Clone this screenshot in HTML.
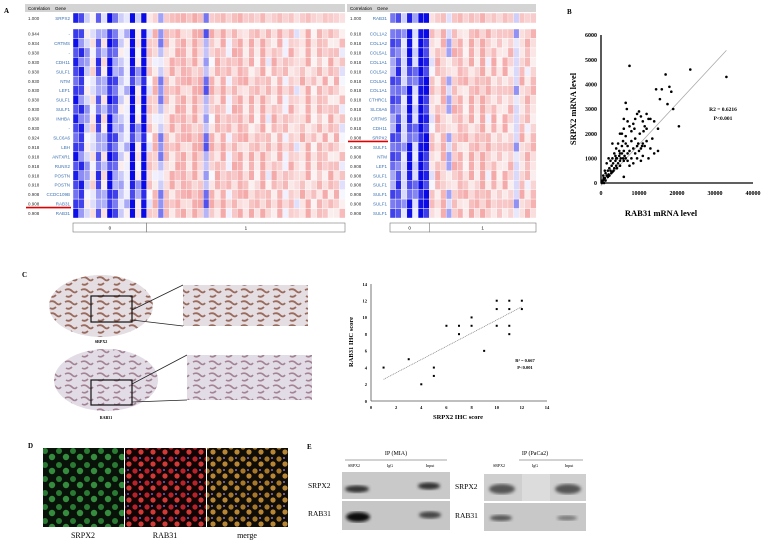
<!DOCTYPE html>
<html><head><meta charset="utf-8">
<style>
html,body{margin:0;padding:0;background:#fff;}
svg{display:block;font-family:"Liberation Serif",serif;}
.sm{font-family:"Liberation Sans",sans-serif;font-size:4.5px;}
</style></head>
<body>
<svg id="fig" width="765" height="542" viewBox="0 0 765 542">
<defs>
<pattern id="tissue" width="16" height="12" patternUnits="userSpaceOnUse">
<rect width="16" height="12" fill="#e4dde2"/>
<path d="M1 2 q4 -2 7 1 q3 3 5 0 M2 8 q3 2 6 -1" stroke="#9a6a5c" stroke-width="1.8" fill="none"/>
</pattern>
<pattern id="tissue2" width="16" height="12" patternUnits="userSpaceOnUse">
<rect width="16" height="12" fill="#e2dce6"/>
<path d="M1 2 q4 -2 7 1 q3 3 5 0 M2 8 q3 2 6 -1" stroke="#a48494" stroke-width="1.6" fill="none"/>
</pattern>
<pattern id="grn" width="14" height="14" patternUnits="userSpaceOnUse">
<rect width="14" height="14" fill="#081208"/>
<circle cx="3" cy="3" r="3" fill="#2a7a33"/><circle cx="10" cy="9" r="3.2" fill="#358c3e"/>
</pattern>
<pattern id="red" width="12" height="12" patternUnits="userSpaceOnUse">
<rect width="12" height="12" fill="#120404"/>
<circle cx="3" cy="3" r="2.6" fill="#b8222a"/><circle cx="9" cy="8" r="2.6" fill="#d23a36"/><circle cx="8" cy="2" r="1" fill="#6a5fd0"/>
</pattern>
<pattern id="mrg" width="12" height="12" patternUnits="userSpaceOnUse">
<rect width="12" height="12" fill="#100c06"/>
<circle cx="3" cy="3" r="2.6" fill="#a8782a"/><circle cx="9" cy="8" r="2.6" fill="#b98636"/><circle cx="8" cy="2" r="1" fill="#8a70c0"/>
</pattern>
<filter id="blur"><feGaussianBlur stdDeviation="1.6"/></filter>
</defs>

<text x="4" y="13" font-size="7" font-weight="bold">A</text>
<g id="heatA"></g>
<g id="heatB"></g>

<text x="567" y="14" font-size="7" font-weight="bold">B</text>
<g id="scatB"></g>

<text x="22" y="277" font-size="7" font-weight="bold">C</text>
<g>
<ellipse cx="101" cy="306" rx="52" ry="31" fill="url(#tissue)"/>
<rect x="91" y="296" width="41" height="26" fill="none" stroke="#111" stroke-width="1.2"/>
<line x1="132" y1="310" x2="183" y2="285" stroke="#222" stroke-width="0.8"/>
<line x1="132" y1="320" x2="183" y2="326" stroke="#222" stroke-width="0.8"/>
<rect x="183" y="285" width="125" height="41" fill="url(#tissue)"/>
<text x="101" y="343" font-size="4" font-weight="bold" text-anchor="middle">SRPX2</text>
<ellipse cx="106" cy="380" rx="52" ry="31" fill="url(#tissue2)"/>
<rect x="91" y="380" width="41" height="25" fill="none" stroke="#111" stroke-width="1.2"/>
<line x1="132" y1="384" x2="187" y2="355" stroke="#222" stroke-width="0.8"/>
<line x1="132" y1="402" x2="187" y2="400" stroke="#222" stroke-width="0.8"/>
<rect x="187" y="355" width="125" height="45" fill="url(#tissue2)"/>
<text x="106" y="419" font-size="4" font-weight="bold" text-anchor="middle">RAB31</text>
</g>
<g id="scatC"></g>

<text x="28" y="448" font-size="7" font-weight="bold">D</text>
<rect x="43" y="448" width="81" height="79" fill="url(#grn)"/>
<rect x="125" y="448" width="81" height="79" fill="url(#red)"/>
<rect x="207" y="448" width="81" height="79" fill="url(#mrg)"/>
<text x="83" y="538" font-size="8" text-anchor="middle">SRPX2</text>
<text x="165" y="538" font-size="8" text-anchor="middle">RAB31</text>
<text x="247" y="538" font-size="8" text-anchor="middle">merge</text>

<text x="307" y="449" font-size="7" font-weight="bold">E</text>
<g>
<text x="396" y="455" font-size="6" text-anchor="middle">IP (MIA)</text>
<line x1="345" y1="460" x2="447" y2="460" stroke="#888" stroke-width="0.8"/>
<text x="354" y="467" font-size="4" text-anchor="middle">SRPX2</text>
<text x="390" y="467" font-size="4" text-anchor="middle">IgG</text>
<text x="430" y="467" font-size="4" text-anchor="middle">Input</text>
<text x="308" y="488" font-size="7.5">SRPX2</text>
<text x="308" y="516" font-size="7.5">RAB31</text>
<rect x="342" y="472" width="108" height="27" fill="#c9c9c9"/>
<rect x="342" y="501" width="108" height="29" fill="#c6c6c6"/>
<ellipse cx="357" cy="489" rx="12" ry="3.5" fill="#333" filter="url(#blur)"/>
<ellipse cx="429" cy="486" rx="11" ry="3.5" fill="#333" filter="url(#blur)"/>
<ellipse cx="358" cy="517" rx="12" ry="5" fill="#111" filter="url(#blur)"/>
<ellipse cx="430" cy="515" rx="11" ry="3.5" fill="#444" filter="url(#blur)"/>
</g>
<g>
<text x="535" y="455" font-size="6" text-anchor="middle">IP (PaCa2)</text>
<line x1="519" y1="460" x2="583" y2="460" stroke="#888" stroke-width="0.8"/>
<text x="499" y="467" font-size="4" text-anchor="middle">SRPX2</text>
<text x="535" y="467" font-size="4" text-anchor="middle">IgG</text>
<text x="569" y="467" font-size="4" text-anchor="middle">Input</text>
<text x="455" y="489" font-size="7.5">SRPX2</text>
<text x="455" y="518" font-size="7.5">RAB31</text>
<rect x="484" y="474" width="102" height="27" fill="#cfcfcf"/>
<rect x="484" y="503" width="102" height="28" fill="#c8c8c8"/>
<rect x="522" y="474" width="28" height="27" fill="#dcdcdc"/>
<ellipse cx="502" cy="489" rx="13" ry="5" fill="#555" filter="url(#blur)"/>
<ellipse cx="568" cy="489" rx="13" ry="5" fill="#555" filter="url(#blur)"/>
<ellipse cx="501" cy="518" rx="11" ry="3" fill="#555" filter="url(#blur)"/>
<ellipse cx="567" cy="518" rx="10" ry="2.5" fill="#777" filter="url(#blur)"/>
</g>
</svg>

<script>
const leftGenes = ["-","CRTMS","-","CDH11","SULF1","NTM","LEF1","SULF1","SULF1","INHBA","-","SLC6A6","LBH","ANTXR1","RUNX2","POSTN","POSTN","CCDC109B","RAB31","RAB31"];
const leftCorr = ["0.944","0.934","0.930","0.930","0.930","0.930","0.930","0.930","0.930","0.930","0.930","0.924","0.918","0.918","0.918","0.918","0.918","0.908","0.908","0.908"];
const rightGenes = ["COL1A2","COL1A2","COL5A1","COL1A1","COL5A2","COL5A1","COL1A1","CTHRC1","SLC6A6","CRTMS","CDH11","SRPX2","SULF1","NTM","LEF1","SULF1","SULF1","SULF1","SULF1","SULF1"];
const rightCorr = ["0.918","0.918","0.918","0.918","0.918","0.918","0.918","0.918","0.918","0.918","0.918","0.908","0.908","0.908","0.908","0.908","0.908","0.908","0.908","0.908"];
const leftColBase = [-2.5,-2,-0.5,0,-1.8,-0.3,-2.8,-1.5,-0.5,-0.2,-3,-0.5,-3,
 0.2,0.5,-1,0.6,0.8,0.9,1,0.7,1.1,0.8,-1.5,0.6,0.7,0.9,0.5,0.8,1.0,0.6,0.7,0.5,0.9,0.4,0.6,0.8,0.5,0.7,0.3,0.6,0.8,0.5,0.4,0.7,0.6,0.5,0.3];
const rightColBase = [-1.5,-2,-0.5,-2.5,-1,-3,-3,
 0.3,0.6,0.8,-0.3,0.7,0.9,0.5,0.8,0.6,1.0,0.5,0.7,0.4,0.8,0.6,-0.5,0.7,0.5,0.6];
const noiseRows = ["5382917460285193746025819374602581937460281937",
 "2957381046293851704629385170462938517046293851",
 "7104629385172946308517294630851729463085172946",
 "3816092745381609274538160927453816092745381609",
 "6049273815604927381560492738156049273815604927",
 "9273816045927381604592738160459273816045927381"];

const NS = "http://www.w3.org/2000/svg";
function mk(parent, tag, attrs, txt){
  const e = document.createElementNS(NS, tag);
  for (const k in attrs) e.setAttribute(k, attrs[k]);
  if (txt !== undefined) e.textContent = txt;
  parent.appendChild(e); return e;
}
function heatColor(v){
  if (v < 0){ const t=Math.min(1,-v/3); return `rgb(${Math.round(250-240*t)},${Math.round(250-240*t)},${Math.round(255-25*t)})`; }
  const t=Math.min(0.5,v/2.4); return `rgb(${Math.round(252-14*t)},${Math.round(245-150*t)},${Math.round(245-150*t)})`;
}
function drawHeat(gid, cfg){
  const g = document.getElementById(gid);
  const hdr = mk(g,'rect',{x:cfg.x0,y:4,width:cfg.x1-cfg.x0,height:8,fill:'#d4d4d4'});
   
  mk(g,'text',{x:cfg.x0+3,y:10,class:'sm'},'Correlation');
  mk(g,'text',{x:cfg.x0+30,y:10,class:'sm'},'Gene');
  const n = cfg.base.length, cw = (cfg.hx1-cfg.hx0)/n;
  mk(g,'text',{x:cfg.x0+3,y:20,class:'sm',fill:'#333'},'1.000');
  mk(g,'text',{x:cfg.hx0-3,y:20,class:'sm',fill:'#3a6fb0','text-anchor':'end'},cfg.refGene);
  cfg.base.forEach((b,c)=>{
    const r = mk(g,'rect',{x:cfg.hx0+c*cw,y:13,width:cw+0.2,height:10,fill:heatColor(b*1.1),stroke:'#fff','stroke-width':0.4});
     
  });
  const rh = 9.45, y0 = 29;
  cfg.genes.forEach((gn,i)=>{
    const y = y0+i*rh;
    mk(g,'text',{x:cfg.x0+3,y:y+6.5,class:'sm',fill:'#333'},cfg.corr[i]);
    mk(g,'text',{x:cfg.hx0-3,y:y+6.5,class:'sm',fill:'#3a6fb0','text-anchor':'end'},gn);
    const ns = noiseRows[i%noiseRows.length];
    cfg.base.forEach((b,c)=>{
      const d = (parseInt(ns[(c+cfg.shift)%ns.length])-4.5)/5;
      const v = b + d*(b<0?0.9:0.7);
      const r = mk(g,'rect',{x:cfg.hx0+c*cw,y:y,width:cw+0.2,height:rh,fill:heatColor(v),stroke:'#fff','stroke-width':0.4});
       
    });
  });
  const by = y0+cfg.genes.length*rh+5;
  const gx = cfg.hx0 + cfg.g0*cw;
  mk(g,'rect',{x:cfg.hx0,y:by,width:gx-cfg.hx0,height:9,fill:'#fff',stroke:'#777','stroke-width':0.6});
  mk(g,'rect',{x:gx,y:by,width:cfg.hx1-gx,height:9,fill:'#fff',stroke:'#777','stroke-width':0.6});
  mk(g,'text',{x:(cfg.hx0+gx)/2,y:by+6.5,class:'sm','text-anchor':'middle'},'0');
  mk(g,'text',{x:(gx+cfg.hx1)/2,y:by+6.5,class:'sm','text-anchor':'middle'},'1');
  const ry = y0+cfg.redRow*rh+rh-1;
  const red = mk(g,'line',{x1:cfg.x0+1,y1:ry,x2:cfg.hx0-2,y2:ry,stroke:'#e00000','stroke-width':1.6});
   
}
drawHeat('heatA',{x0:25,x1:345,hx0:73,hx1:345,base:leftColBase,g0:13,genes:leftGenes,corr:leftCorr,refGene:'SRPX2',redRow:18,shift:0});
drawHeat('heatB',{x0:347,x1:536,hx0:390,hx1:536,base:rightColBase,g0:7,genes:rightGenes,corr:rightCorr,refGene:'RAB31',redRow:11,shift:7});

const bX = [300,500,800,600,1000,1200,1500,1800,2000,2200,2500,2800,3000,3200,3500,3800,4000,4200,4500,4800,5000,5200,5500,5800,6000,6200,6500,7000,7500,8000,8500,9000,9500,10000,10500,11000,11500,12000,13000,14000,15000,5500,6000,6500,7000,7500,8000,8500,9000,9500,10000,10500,11000,11500,12000,12500,13000,14000,15000,14500,15500,16000,17000,18000,17500,18500,19000,20500,23500,33000,7500,6500,6000,3000,2000,1500,4000,4500,5000,3500,2500,1000,700,400,200,1800,2700,3300,4200,5000,6000,7500,8500,9500,10500,11000,12500,13500,12000,9000,8000,7000,6500,5500,4800,3800,6800,8800,10200,11200,3000,4000,5000,6000,7000,2200,1200,800,5800,9800,10800];
const bY = [50,100,150,300,200,400,300,500,350,600,500,700,450,800,600,900,700,1000,800,1100,900,1000,1200,1000,1300,1100,1000,1200,1300,1000,1400,1200,1500,1300,1400,1600,1500,1700,1400,1200,1300,2000,2200,1900,2500,2300,2100,2400,2600,2800,2900,2700,2500,2300,2200,2600,2600,2500,2200,3800,3400,3800,4400,3900,3200,3700,3000,2300,4600,4300,4750,3250,2600,1600,1000,800,1400,1600,2000,1200,900,500,200,100,0,250,400,500,600,700,250,700,800,1000,900,1100,1000,1800,2800,1800,1700,1500,1600,1500,1300,1100,3000,2200,2000,2100,1000,1000,1200,900,900,300,100,0,1700,1600,1500];
const bXTicks = [0,10000,20000,30000,40000];
const bYTicks = [0,1000,2000,3000,4000,5000,6000];
const bFit = [0.166, -100];
const bFitRange = [0,33000];

(function(){
  const g = document.getElementById('scatB');
  const X = v => 601 + v/40000*152, Y = v => 183 - v/6000*148;
  mk(g,'line',{x1:601,y1:Y(6000),x2:601,y2:183,stroke:'#000','stroke-width':1.3});
  mk(g,'line',{x1:601,y1:183,x2:753,y2:183,stroke:'#000','stroke-width':1.3});
  bYTicks.forEach(t=>{ mk(g,'text',{x:597,y:Y(t)+2.2,'font-size':6,'font-weight':'bold','text-anchor':'end'},String(t)); });
  bXTicks.forEach(t=>{ mk(g,'text',{x:X(t),y:195,'font-size':6,'font-weight':'bold','text-anchor':'middle'},String(t)); });
  const fl = mk(g,'line',{x1:X(bFitRange[0]),y1:Y(bFit[0]*bFitRange[0]+bFit[1]),x2:X(bFitRange[1]),y2:Y(bFit[0]*bFitRange[1]+bFit[1]),stroke:'#aaa','stroke-width':0.8});
   
  bX.forEach((x,i)=>{
    const c = mk(g,'circle',{cx:X(x),cy:Y(bY[i]),r:1.3,fill:'#000'});
     
  });
  mk(g,'text',{x:661,y:216,'font-size':8.5,'font-weight':'bold','text-anchor':'middle'},'RAB31 mRNA level');
  mk(g,'text',{x:0,y:0,'font-size':8.5,'font-weight':'bold','text-anchor':'middle',transform:'translate(576,109) rotate(-90)'},'SRPX2 mRNA level');
  mk(g,'text',{x:723,y:111,'font-size':5.5,'font-weight':'bold','text-anchor':'middle'},'R2 = 0.6216');
  mk(g,'text',{x:723,y:120,'font-size':5.5,'font-weight':'bold','text-anchor':'middle'},'P<0.001');
})();

const cX = [1,3,4,5,5,6,7,7,8,8,9,10,10,10,11,11,11,11,12,12];
const cY = [4,5,2,4,3,9,9,8,10,9,6,12,11,9,12,11,9,8,12,11];
const cTicks = [0,2,4,6,8,10,12,14];
const cFit = [0.79, 1.8];
const cFitRange = [1,12];

(function(){
  const g = document.getElementById('scatC');
  const X = v => 371 + v/14*176, Y = v => 401 - v/14*117;
  mk(g,'line',{x1:371,y1:Y(14),x2:371,y2:401,stroke:'#555','stroke-width':0.8});
  mk(g,'line',{x1:371,y1:401,x2:547,y2:401,stroke:'#555','stroke-width':0.8});
  cTicks.forEach(t=>{
    mk(g,'text',{x:367,y:Y(t)+1.8,'font-size':4.5,'font-weight':'bold','text-anchor':'end'},String(t));
    mk(g,'text',{x:X(t),y:409,'font-size':4.5,'font-weight':'bold','text-anchor':'middle'},String(t));
  });
  const fl = mk(g,'line',{x1:X(cFitRange[0]),y1:Y(cFit[0]*cFitRange[0]+cFit[1]),x2:X(cFitRange[1]),y2:Y(cFit[0]*cFitRange[1]+cFit[1]),stroke:'#777','stroke-width':0.7,'stroke-dasharray':'1,0.8'});
   
  cX.forEach((x,i)=>{
    const c = mk(g,'rect',{x:X(x)-1,y:Y(cY[i])-1,width:2,height:2,fill:'#000'});
     
  });
  mk(g,'text',{x:458,y:419,'font-size':6.5,'font-weight':'bold','text-anchor':'middle'},'SRPX2 IHC score');
  mk(g,'text',{x:0,y:0,'font-size':6.5,'font-weight':'bold','text-anchor':'middle',transform:'translate(353,342) rotate(-90)'},'RAB31 IHC score');
  mk(g,'text',{x:525,y:362,'font-size':4.5,'font-weight':'bold','text-anchor':'middle'},'R² = 0.667');
  mk(g,'text',{x:525,y:369,'font-size':4.5,'font-weight':'bold','text-anchor':'middle'},'P<0.001');
})();
</script>
</body></html>
